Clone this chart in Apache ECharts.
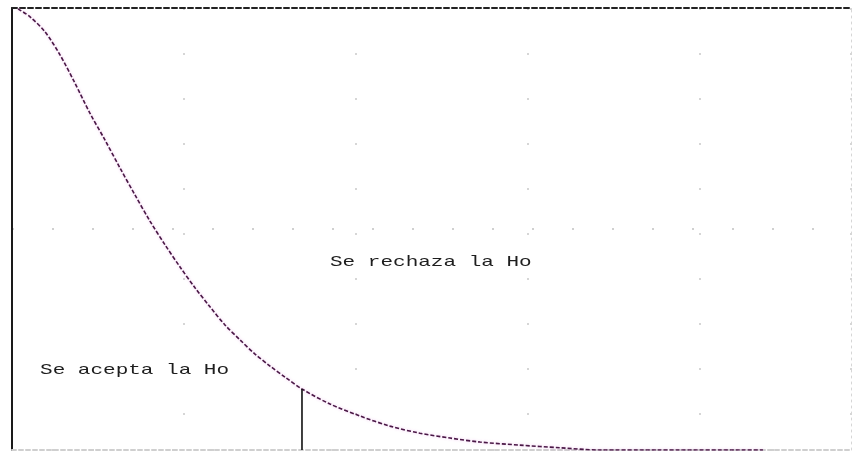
<!DOCTYPE html>
<html>
<head>
<meta charset="utf-8">
<script src="https://cdn.jsdelivr.net/npm/echarts@6/dist/echarts.min.js"></script>
<style>
  html, body { margin: 0; padding: 0; background: #fff; }
  #chart { width: 853px; height: 452px; }
</style>
</head>
<body>
<div id="chart"></div>
<script>
// Density curve (x, f(x)) along the tail
const curveX = [0.035, 0.105, 0.192, 0.279, 0.366, 0.453, 0.541, 0.628, 0.715, 0.802, 0.890, 0.977, 1.064, 1.151, 1.238, 1.326, 1.413, 1.500, 1.587, 1.686, 1.849, 2.023, 2.198, 2.372, 2.547, 2.721, 2.953, 3.186, 3.419, 3.767, 4.366];
const curveY = [0.998, 0.980, 0.946, 0.894, 0.830, 0.762, 0.701, 0.638, 0.577, 0.518, 0.464, 0.414, 0.367, 0.324, 0.283, 0.249, 0.217, 0.190, 0.165, 0.138, 0.104, 0.077, 0.054, 0.038, 0.027, 0.018, 0.011, 0.005, 0.000, 0.000, 0.000];

// Critical value and the density height at that point
const criticalX = 1.686;
const criticalY = 0.138;

// Region labels: [text, x, y] (left edge, vertical centre)
const regionLabels = [
  ['Se acepta la Ho', 0.163, 0.181],
  ['Se rechaza la Ho', 1.849, 0.425]
];

const xMin = 0, xMax = 4.878, xStep = 1;
const yMin = 0, yMax = 1, yStep = 0.5;

const chart = echarts.init(document.getElementById('chart'), null, { renderer: 'canvas' });

const curveData = curveX.map((x, i) => [x, curveY[i]]);

const hiddenAxisBits = {
  axisTick: { show: false },
  axisLabel: { show: false }
};

chart.setOption({
  animation: false,
  backgroundColor: '#ffffff',
  grid: { left: 12, right: 2, top: 8, bottom: 2, containLabel: false },
  xAxis: [
    {
      type: 'value', min: xMin, max: xMax, interval: xStep, position: 'bottom',
      axisLine: { show: true, onZero: false, lineStyle: { color: '#cfcfcf', width: 2, type: [4, 3] } },
      splitLine: { show: true, lineStyle: { color: '#d6d6d6', width: 2, type: [2, 43] } },
      ...hiddenAxisBits
    },
    {
      type: 'value', min: xMin, max: xMax, position: 'top',
      axisLine: { show: true, onZero: false, lineStyle: { color: '#222', width: 2, type: [5, 3] } },
      splitLine: { show: false },
      ...hiddenAxisBits
    }
  ],
  yAxis: [
    {
      type: 'value', min: yMin, max: yMax, interval: yStep, position: 'left',
      axisLine: { show: true, onZero: false, lineStyle: { color: '#1a1a1a', width: 2 } },
      splitLine: { show: true, lineStyle: { color: '#d0d0d0', width: 2, type: [2, 38] } },
      ...hiddenAxisBits
    },
    {
      type: 'value', min: yMin, max: yMax, position: 'right',
      axisLine: { show: true, onZero: false, lineStyle: { color: '#d6d6d6', width: 1, type: [2, 4] } },
      splitLine: { show: false },
      ...hiddenAxisBits
    }
  ],
  series: [
    {
      name: 'densidad',
      type: 'line',
      smooth: 0.3,
      showSymbol: false,
      data: curveData,
      lineStyle: { color: '#4a1846', width: 1.6, type: [4, 2], shadowColor: 'rgba(220,120,220,0.45)', shadowBlur: 3 }
    },
    {
      name: 'valor crítico',
      type: 'line',
      showSymbol: false,
      data: [[criticalX, 0], [criticalX, criticalY]],
      lineStyle: { color: '#111', width: 1.6 }
    }
  ]
});

// Place the region labels at their data positions, stretched horizontally like a wide monospace
const graphics = regionLabels.map(([text, x, y]) => {
  const p = chart.convertToPixel({ gridIndex: 0 }, [x, y]);
  return {
    type: 'text',
    x: p[0],
    y: p[1],
    scaleX: 1.4,
    style: {
      text: text,
      font: '15px "Liberation Mono", "DejaVu Sans Mono", monospace',
      fill: '#1e1e1e',
      textVerticalAlign: 'middle',
      textAlign: 'left'
    }
  };
});
chart.setOption({ graphic: graphics });
</script>
</body>
</html>
